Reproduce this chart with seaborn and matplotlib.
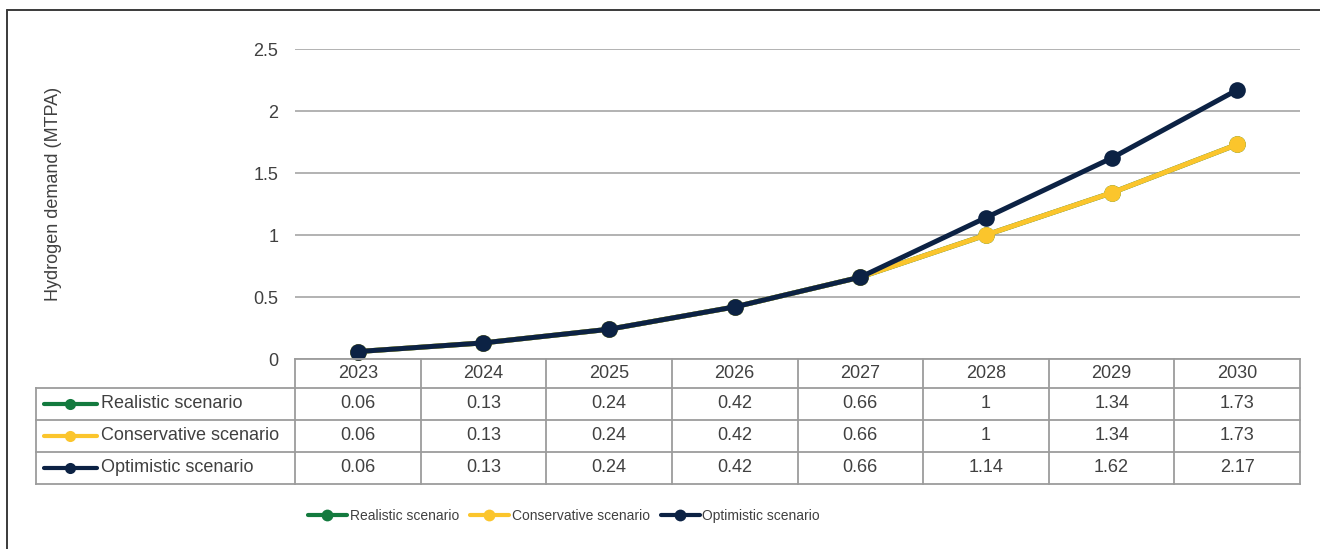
import matplotlib
matplotlib.use("Agg")
import matplotlib.pyplot as plt
import pandas as pd
import seaborn as sns
from matplotlib.lines import Line2D
from matplotlib.transforms import blended_transform_factory

# ---- data -------------------------------------------------------------
years = ["2023", "2024", "2025", "2026", "2027", "2028", "2029", "2030"]
scenarios = ["Realistic scenario", "Conservative scenario", "Optimistic scenario"]
realistic = [0.06, 0.13, 0.24, 0.42, 0.66, 1.00, 1.34, 1.73]
conservative = [0.06, 0.13, 0.24, 0.42, 0.66, 1.00, 1.34, 1.73]
optimistic = [0.06, 0.13, 0.24, 0.42, 0.66, 1.14, 1.62, 2.17]
y_ticks = [0, 0.5, 1, 1.5, 2, 2.5]
y_tick_labels = ["0", "0.5", "1", "1.5", "2", "2.5"]
y_label = "Hydrogen demand (MTPA)"

colors = ["#137A3E", "#FBC52C", "#0C2244"]
palette = dict(zip(scenarios, colors))
series = dict(zip(scenarios, [realistic, conservative, optimistic]))

# ---- style ------------------------------------------------------------
sns.set_theme(style="white")
plt.rcParams["font.family"] = ["Liberation Sans", "DejaVu Sans"]
TEXT = "#404040"
GRID = "#A6A6A6"
RULE = "#9C9C9C"
FS = 13
LEG_FS = 10
LW = 3.6
MS = 12

W, H = 1320, 549
fig = plt.figure(figsize=(W / 100, H / 100), dpi=100)


def fx(px):
    return px / W


def fy(py):
    return 1 - py / H


# plot area
ax = fig.add_axes([fx(295), fy(359), fx(1300) - fx(295), fy(49) - fy(359)])

df = pd.DataFrame(
    {
        "year": [y for s in scenarios for y in years],
        "value": [v for s in scenarios for v in series[s]],
        "scenario": [s for s in scenarios for _ in years],
    }
)
sns.lineplot(
    data=df, x="year", y="value", hue="scenario", hue_order=scenarios,
    palette=palette, marker="o", markersize=MS, markeredgewidth=0,
    linewidth=LW, legend=False, sort=False, ax=ax,
)

ax.set_xlim(-0.5, len(years) - 0.5)
ax.set_ylim(0, 2.5)
ax.set_yticks(y_ticks)
ax.set_yticklabels(y_tick_labels, fontsize=FS, color=TEXT)
ax.tick_params(axis="y", length=0, pad=12)
ax.set_xticks([])
ax.set_xlabel("")
ax.set_ylabel("")
ax.yaxis.grid(True, color=GRID, linewidth=1.2)
ax.set_axisbelow(True)
for sp in ax.spines.values():
    sp.set_visible(False)
for line in ax.lines:
    line.set_clip_on(False)

fig.text(fx(54), fy(194), y_label, rotation=90, ha="center", va="center",
         fontsize=FS, color=TEXT)

# ---- data table under the plot ----------------------------------------
bt = blended_transform_factory(ax.transData, fig.transFigure)
ft = fig.transFigure
n = len(years)
row_edges = [359, 388, 420, 452, 484]
left_px = 36
lkw = dict(color=RULE, linewidth=1.3, solid_capstyle="projecting")

# header row (years only)
fig.add_artist(Line2D([-0.5, n - 0.5], [fy(row_edges[0])] * 2, transform=bt, **lkw))
for i in range(n + 1):
    fig.add_artist(Line2D([i - 0.5, i - 0.5], [fy(row_edges[0]), fy(row_edges[-1])],
                          transform=bt, **lkw))
for i, yr in enumerate(years):
    fig.text(i, fy((row_edges[0] + row_edges[1]) / 2), yr, transform=bt,
             ha="center", va="center", fontsize=FS, color=TEXT)

# scenario rows
for yy in row_edges[1:]:
    fig.add_artist(Line2D([fx(left_px), fx(295)], [fy(yy)] * 2, transform=ft, **lkw))
    fig.add_artist(Line2D([-0.5, n - 0.5], [fy(yy)] * 2, transform=bt, **lkw))
fig.add_artist(Line2D([fx(left_px)] * 2, [fy(row_edges[1]), fy(row_edges[-1])],
                      transform=ft, **lkw))

for r, s in enumerate(scenarios):
    yc = fy((row_edges[r + 1] + row_edges[r + 2]) / 2)
    c = palette[s]
    fig.add_artist(Line2D([fx(44), fx(97)], [yc, yc], transform=ft, color=c,
                          linewidth=3.0, solid_capstyle="round"))
    fig.add_artist(Line2D([fx(70)], [yc], transform=ft, color=c, marker="o",
                          markersize=8, markeredgewidth=0, linestyle="none"))
    fig.text(fx(101), yc, s, transform=ft, ha="left", va="center",
             fontsize=FS, color=TEXT)
    for i, v in enumerate(series[s]):
        fig.text(i, yc, f"{v:g}", transform=bt, ha="center", va="center",
                 fontsize=FS, color=TEXT)

# ---- legend -----------------------------------------------------------
handles = [
    Line2D([], [], color=palette[s], linewidth=3.0, marker="o",
           markersize=8.5, markeredgewidth=0, solid_capstyle="round")
    for s in scenarios
]
fig.legend(handles, scenarios, loc="center", bbox_to_anchor=(fx(564), fy(516)),
           ncol=3, frameon=False, handlelength=2.8,
           handletextpad=0.2, columnspacing=0.8, labelcolor=TEXT,
           prop={"family": ["Liberation Sans", "DejaVu Sans"], "size": LEG_FS})

# outer frame
fkw = dict(color="#3A3A3A", linewidth=1.4, transform=ft)
fig.add_artist(Line2D([fx(7), fx(7)], [fy(10), 0], **fkw))
fig.add_artist(Line2D([fx(7), 1], [fy(10), fy(10)], **fkw))

fig.savefig("out.png", dpi=100)
